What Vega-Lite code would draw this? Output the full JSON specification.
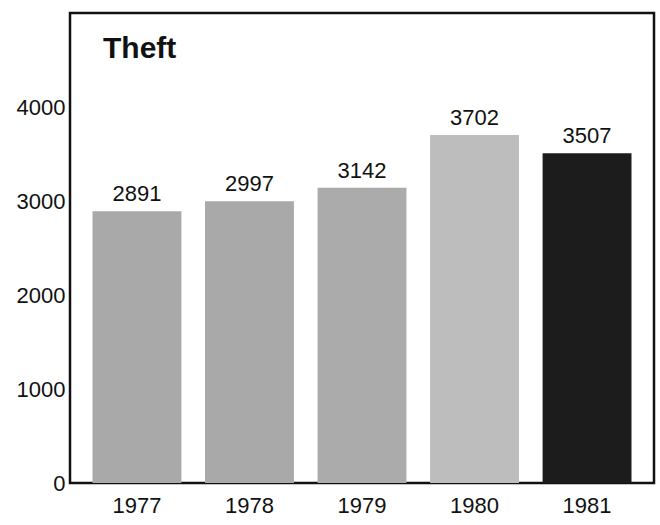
{
  "$schema": "https://vega.github.io/schema/vega-lite/v6.json",
  "width": 584,
  "height": 470,
  "autosize": {"type": "none"},
  "padding": {"left": 70, "top": 13, "right": 6, "bottom": 42},
  "background": "white",
  "config": {
    "font": "Liberation Sans",
    "view": {"stroke": "#111111", "strokeWidth": 2.5}
  },
  "title": {
    "text": "Theft",
    "anchor": "start",
    "frame": "group",
    "orient": "top",
    "offset": -45,
    "baseline": "alphabetic",
    "dx": 33,
    "dy": 30,
    "fontSize": 30,
    "fontWeight": "bold",
    "color": "#111111",
    "font": "Liberation Sans"
  },
  "data": {
    "values": [
      {"year": "1977", "thefts": 2891},
      {"year": "1978", "thefts": 2997},
      {"year": "1979", "thefts": 3142},
      {"year": "1980", "thefts": 3702},
      {"year": "1981", "thefts": 3507}
    ]
  },
  "encoding": {
    "x": {
      "field": "year",
      "type": "ordinal",
      "scale": {"paddingInner": 0.21, "paddingOuter": 0.2},
      "axis": {
        "title": null,
        "labelAngle": 0,
        "labelFontSize": 22,
        "labelColor": "#111111",
        "labelPadding": 12,
        "ticks": false,
        "domain": false
      }
    },
    "y": {
      "field": "thefts",
      "type": "quantitative",
      "scale": {"domain": [0, 5000], "nice": false},
      "axis": {
        "title": null,
        "values": [0, 1000, 2000, 3000, 4000],
        "format": "d",
        "grid": false,
        "ticks": false,
        "domain": false,
        "labelFontSize": 22,
        "labelColor": "#111111",
        "labelPadding": 5
      }
    }
  },
  "layer": [
    {
      "mark": {"type": "bar"},
      "encoding": {
        "color": {
          "field": "year",
          "type": "nominal",
          "legend": null,
          "scale": {
            "domain": ["1977", "1978", "1979", "1980", "1981"],
            "range": ["#a9a9a9", "#a9a9a9", "#ababab", "#bdbdbd", "#1c1c1c"]
          }
        }
      }
    },
    {
      "mark": {
        "type": "text",
        "baseline": "alphabetic",
        "dy": -10,
        "fontSize": 22,
        "color": "#111111"
      },
      "encoding": {"text": {"field": "thefts", "type": "quantitative", "format": "d"}}
    }
  ]
}
